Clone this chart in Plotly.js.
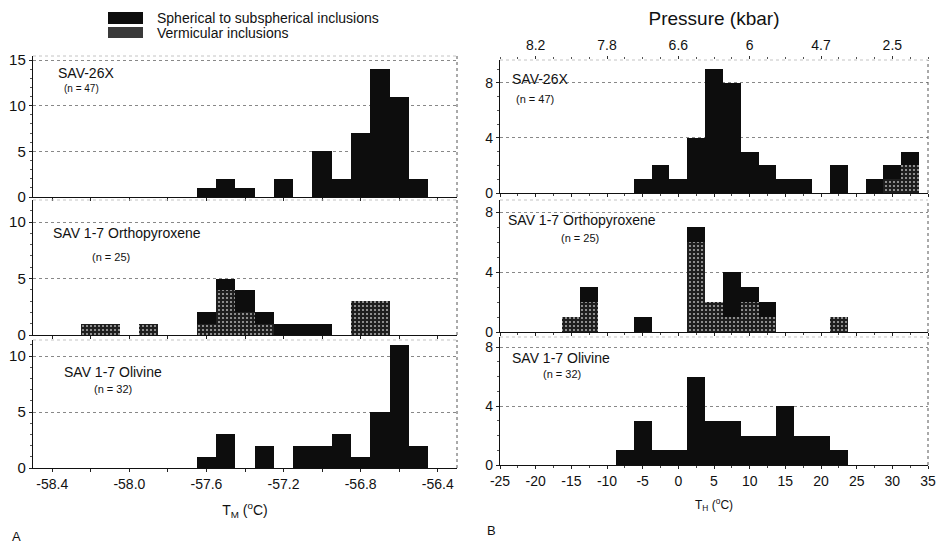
<!DOCTYPE html>
<html>
<head>
<meta charset="utf-8">
<script src="https://cdn.plot.ly/plotly-3.0.1.min.js"></script>
<style>html,body{margin:0;padding:0;background:#fff;}#chart{width:951px;height:544px;}</style>
</head>
<body>
<div id="chart"></div>
<script>
// ---------- DATA ----------
// Melting temperature (T_M) bins, deg C (bin centres, 0.1 wide)
const tmBins = [-58.3,-58.2,-58.1,-58.0,-57.9,-57.8,-57.7,-57.6,-57.5,-57.4,-57.3,-57.2,-57.1,-57.0,-56.9,-56.8,-56.7,-56.6,-56.5];
const tmSav26Sph  = [0,0,0,0,0,0,0,1,2,1,0,2,0,5,2,7,14,11,2];
const tmSav26Ver  = [0,0,0,0,0,0,0,0,0,0,0,0,0,0,0,0,0,0,0];
const tmOpxSph    = [0,0,0,0,0,0,0,1,1,2,1,1,1,1,0,0,0,0,0];
const tmOpxVer    = [0,1,1,0,1,0,0,1,4,2,1,0,0,0,0,3,3,0,0];
const tmOlSph     = [0,0,0,0,0,0,0,1,3,0,2,0,2,2,3,1,5,11,2];
const tmOlVer     = [0,0,0,0,0,0,0,0,0,0,0,0,0,0,0,0,0,0,0];

// Homogenization temperature (T_H) bins, deg C (bin centres, 2.5 wide)
const thBins = [-15,-12.5,-10,-7.5,-5,-2.5,0,2.5,5,7.5,10,12.5,15,17.5,20,22.5,25,27.5,30,32.5];
const thSav26Sph  = [0,0,0,0,1,2,1,4,9,8,3,2,1,1,0,2,0,1,1,1];
const thSav26Ver  = [0,0,0,0,0,0,0,0,0,0,0,0,0,0,0,0,0,0,1,2];
const thOpxSph    = [0,1,0,0,1,0,0,1,0,3,1,1,0,0,0,0,0,0,0,0];
const thOpxVer    = [1,2,0,0,0,0,0,6,2,1,2,1,0,0,0,1,0,0,0,0];
const thOlSph     = [0,0,0,1,3,1,1,6,3,3,2,2,4,2,2,1,0,0,0,0];
const thOlVer     = [0,0,0,0,0,0,0,0,0,0,0,0,0,0,0,0,0,0,0,0];

// Tick labels
const tmTickVals = [-58.4,-58.0,-57.6,-57.2,-56.8,-56.4];
const tmTickText = ['-58.4','-58.0','-57.6','-57.2','-56.8','-56.4'];
const thTickVals = [-25,-20,-15,-10,-5,0,5,10,15,20,25,30,35];
const thTickText = ['-25','-20','-15','-10','-5','0','5','10','15','20','25','30','35'];
const pressTickVals = [-20,-10,0,10,20,30];
const pressTickText = ['8.2','7.8','6.6','6','4.7','2.5'];

const seriesNames = ['Spherical to subspherical inclusions','Vermicular inclusions'];
const panelNames = ['SAV-26X','SAV 1-7 Orthopyroxene','SAV 1-7 Olivine'];
const panelCounts = ['(n = 47)','(n = 25)','(n = 32)'];

// ---------- STYLE ----------
const W = 951, H = 544;
const FONT = 'Liberation Sans, Arial, sans-serif';
const NARROW = 'Liberation Sans Narrow, Liberation Sans, Arial, sans-serif';
const SPH = '#0d0d0d';
const verMarker = {color:'#1e1e1e', line:{width:0},
  pattern:{shape:'.', fgcolor:'#a8a8a8', bgcolor:'#1e1e1e', size:4, solidity:0.22}};
const sphMarker = {color:SPH, line:{width:0}};

const px = x => x / W;
const py = y => 1 - y / H;

const traces = [];
function addPanel(xa, ya, bins, ver, sph) {
  traces.push({type:'bar', x:bins, y:ver, xaxis:xa, yaxis:ya, marker:verMarker,
               name:seriesNames[1], showlegend:false, hoverinfo:'x+y'});
  traces.push({type:'bar', x:bins, y:sph, xaxis:xa, yaxis:ya, marker:sphMarker,
               name:seriesNames[0], showlegend:false, hoverinfo:'x+y'});
}
addPanel('x','y',tmBins,tmSav26Ver,tmSav26Sph);
addPanel('x2','y2',tmBins,tmOpxVer,tmOpxSph);
addPanel('x3','y3',tmBins,tmOlVer,tmOlSph);
addPanel('x4','y4',thBins,thSav26Ver,thSav26Sph);
addPanel('x5','y5',thBins,thOpxVer,thOpxSph);
addPanel('x6','y6',thBins,thOlVer,thOlSph);
// empty trace so that the top pressure axis is drawn
traces.push({type:'scatter', x:[], y:[], xaxis:'x7', yaxis:'y4', showlegend:false, hoverinfo:'skip'});

const leftDom = [px(33), px(457)];
const rightDom = [px(500), px(928)];

function xAx(dom, anchor, range, showLabels, isLeft) {
  const ax = {domain:dom, anchor:anchor, range:range, showgrid:false, zeroline:false,
    showline:true, linecolor:'#111', linewidth:1.2, ticks:'outside', ticklen:3, tickcolor:'#222',
    showticklabels:showLabels, fixedrange:true,
    tickfont:{family:NARROW, size:14, color:'#111'}};
  if (isLeft) {
    ax.tickvals = tmTickVals; ax.ticktext = tmTickText;
    ax.minor = {tickvals:[-58.2,-57.8,-57.4,-57.0,-56.6], ticks:'outside', ticklen:3, tickcolor:'#222'};
  } else {
    ax.tickvals = thTickVals; ax.ticktext = thTickText;
    ax.minor = {dtick:2.5, tick0:0, ticks:'outside', ticklen:2, tickcolor:'#444'};
  }
  return ax;
}
function yAx(top, bottom, anchor, range, vals, size) {
  return {domain:[py(bottom), py(top)], anchor:anchor, range:range, fixedrange:true,
    tickvals:vals, ticktext:vals.map(String), showline:true, linecolor:'#111', linewidth:1.2,
    ticks:'outside', ticklen:3, tickcolor:'#222', zeroline:false,
    showgrid:true, gridcolor:'#888', griddash:'dot', gridwidth:1,
    minor:{dtick:1, ticks:'outside', ticklen:2, tickcolor:'#555', showgrid:false},
    tickfont:{family:FONT, size:size, color:'#111'}};
}

const layout = {
  width:W, height:H, margin:{l:0,r:0,t:0,b:0}, paper_bgcolor:'#fff', plot_bgcolor:'#fff',
  barmode:'stack', bargap:0, showlegend:false, font:{family:FONT, color:'#111'},
  xaxis:  xAx(leftDom,'y',[-58.5,-56.3],false,true),
  xaxis2: xAx(leftDom,'y2',[-58.5,-56.3],false,true),
  xaxis3: Object.assign(xAx(leftDom,'y3',[-58.5,-56.3],true,true),
          {title:{text:'T<sub>M</sub> (<sup>o</sup>C)', font:{family:FONT,size:14}, standoff:14}}),
  xaxis4: xAx(rightDom,'y4',[-25,35],false,false),
  xaxis5: xAx(rightDom,'y5',[-25,35],false,false),
  xaxis6: Object.assign(xAx(rightDom,'y6',[-25,35],true,false),
          {title:{text:'T<sub>H</sub> (<sup>o</sup>C)', font:{family:FONT,size:12}, standoff:12}}),
  xaxis7: {overlaying:'x4', anchor:'y4', side:'top', range:[-25,35], fixedrange:true,
    tickvals:pressTickVals, ticktext:pressTickText, showgrid:false, zeroline:false, showline:false,
    ticks:'outside', ticklen:3, tickcolor:'#333',
    minor:{dtick:2.5, tick0:0, ticks:'outside', ticklen:2, tickcolor:'#555'},
    tickfont:{family:FONT, size:14, color:'#111'},
    title:{text:'Pressure (kbar)', font:{family:FONT, size:19, color:'#111'}, standoff:6}},
  yaxis:  yAx(56,197,'x',[0,15.44],[0,5,10,15],15),
  yaxis2: yAx(200,335,'x2',[0,11.95],[0,5,10],15),
  yaxis3: yAx(340,468,'x3',[0,11.43],[0,5,10],15),
  yaxis4: yAx(60,193,'x4',[0,9.67],[0,4,8],14),
  yaxis5: yAx(200,332,'x5',[0,8.8],[0,4,8],14),
  yaxis6: yAx(337,465,'x6',[0,8.68],[0,4,8],14),
  shapes:[], annotations:[]
};

// dotted right/top frame edges (decoration)
[['x','y'],['x2','y2'],['x3','y3'],['x4','y4'],['x5','y5'],['x6','y6']].forEach(([xa,ya])=>{
  layout.shapes.push({type:'line', xref:xa+' domain', yref:ya+' domain', x0:1,x1:1,y0:0,y1:1,
    line:{color:'#555', width:1, dash:'dot'}});
  layout.shapes.push({type:'line', xref:xa+' domain', yref:ya+' domain', x0:0,x1:1,y0:1,y1:1,
    line:{color:'#c4c4c4', width:1, dash:'dot'}});
});

// legend (drawn): swatches + labels
layout.shapes.push({type:'rect', xref:'paper', yref:'paper', x0:px(108), x1:px(143), y0:py(24), y1:py(12),
  fillcolor:SPH, line:{width:0}});
layout.shapes.push({type:'rect', xref:'paper', yref:'paper', x0:px(108), x1:px(143), y0:py(38), y1:py(27),
  fillcolor:'#3a3a3a', line:{width:0}});
function ann(text, x, y, size) {
  layout.annotations.push({text:text, xref:'paper', yref:'paper', x:px(x), y:py(y),
    xanchor:'left', yanchor:'middle', showarrow:false, font:{family:FONT, size:size, color:'#111'}});
}
ann(seriesNames[0], 155, 18, 14);
ann(seriesNames[1], 155, 33, 14);

// panel labels
ann(panelNames[0], 56, 73, 14);  ann(panelCounts[0], 62, 89, 10);
ann(panelNames[1], 51, 233, 14); ann(panelCounts[1], 90, 257, 11);
ann(panelNames[2], 62, 372, 14); ann(panelCounts[2], 92, 389, 11);
ann(panelNames[0], 510, 79, 14); ann(panelCounts[0], 514, 99, 11);
ann(panelNames[1], 506, 220, 14); ann(panelCounts[1], 559, 238, 11);
ann(panelNames[2], 510, 358, 14); ann(panelCounts[2], 541, 374, 11);
// panel letters
ann('A', 10, 536, 13);
ann('B', 485, 530, 13);

Plotly.newPlot('chart', traces, layout, {staticPlot:true, displayModeBar:false});
</script>
</body>
</html>
